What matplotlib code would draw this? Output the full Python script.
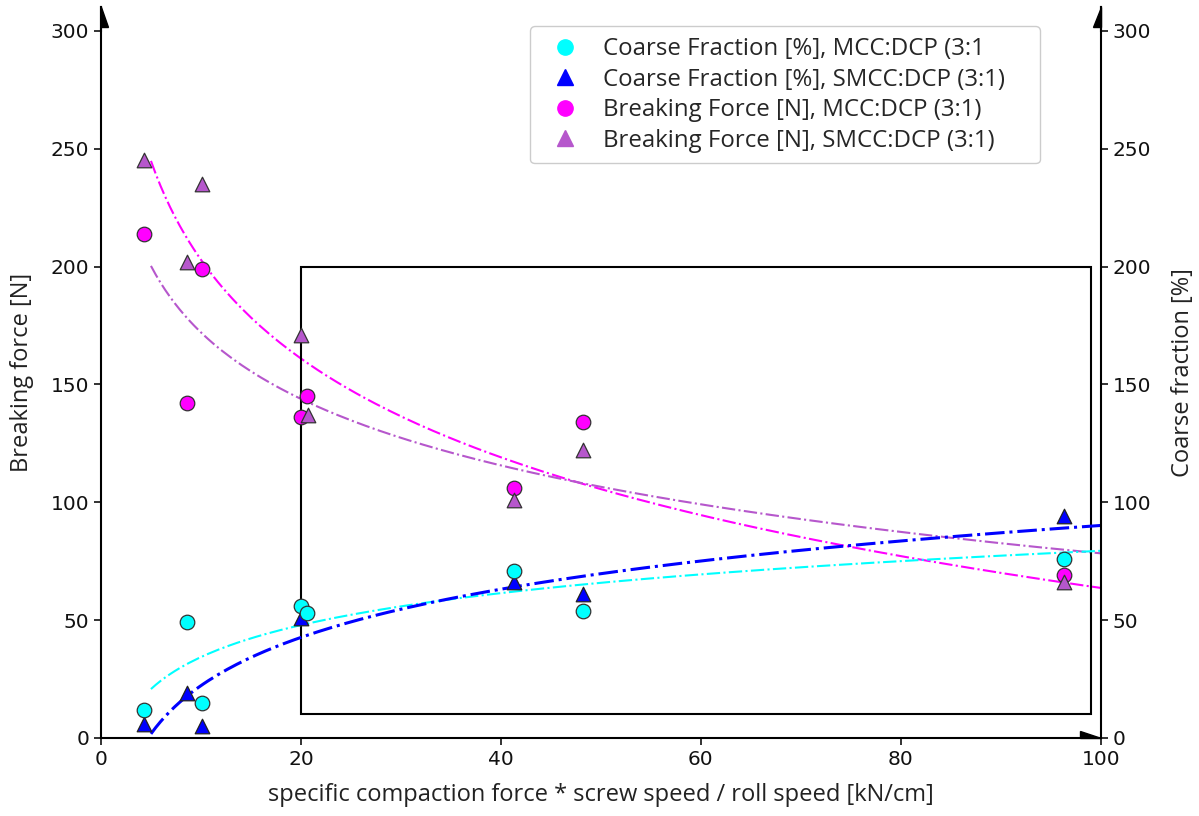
import numpy as np
import matplotlib.pyplot as plt
from matplotlib.patches import Rectangle, Polygon
from matplotlib.lines import Line2D

# specific compaction force * screw speed / roll speed [kN/cm]
x_mcc = [4.3, 8.6, 10.1, 20.0, 20.6, 41.3, 48.2, 96.3]
x_smcc = [4.3, 8.6, 10.1, 20.0, 20.7, 41.3, 48.2, 96.3]
x_cf_smcc = [4.3, 8.6, 10.1, 20.0, 41.3, 48.2, 96.3]

cf_mcc = [12, 49, 15, 56, 53, 71, 54, 76]       # coarse fraction [%], MCC:DCP
cf_smcc = [6, 19, 5, 51, 66, 61, 94]            # coarse fraction [%], SMCC:DCP
bf_mcc = [214, 142, 199, 136, 145, 106, 134, 69]   # breaking force [N], MCC:DCP
bf_smcc = [245, 202, 235, 171, 137, 101, 122, 66]  # breaking force [N], SMCC:DCP

labels = ["Coarse Fraction [%], MCC:DCP (3:1",
          "Coarse Fraction [%], SMCC:DCP (3:1)",
          "Breaking Force [N], MCC:DCP (3:1)",
          "Breaking Force [N], SMCC:DCP (3:1)"]

c_cyan, c_blue, c_mag, c_purp = "#00ffff", "#0000ff", "#ff00ff", "#b657cc"


def log_fit(x, y):
    # y = a + b*ln(x) fitted to the measured points
    b, a = np.polyfit(np.log(x), y, 1)
    xs = np.linspace(5, 100, 200)
    return xs, a + b * np.log(xs)


fig = plt.figure(figsize=(11.99, 8.16), dpi=100)
ax = fig.add_axes([0.0842, 0.0956, 0.834, 0.8955])
ax2 = ax.twinx()

ax.set_xlim(0, 100)
ax.set_ylim(0, 310)
ax2.set_ylim(0, 310)
ax.set_yticks(range(0, 301, 50))
ax2.set_yticks(range(0, 301, 50))
ax.set_xticks(range(0, 101, 20))

for a_ in (ax, ax2):
    a_.spines["top"].set_visible(False)
    for s in a_.spines.values():
        s.set_linewidth(1.5)
    a_.tick_params(labelsize=14.5, width=1.2, length=5, colors="#111111")
ax2.spines["left"].set_visible(False)
ax2.spines["bottom"].set_visible(False)
ax.spines["right"].set_visible(False)

# fit curves (colours as in the original figure)
xs, ys = log_fit(x_mcc, cf_mcc)
ax2.plot(xs, ys, "-.", color=c_cyan, lw=1.5)
xs, ys = log_fit(x_cf_smcc, cf_smcc)
ax2.plot(xs, ys, "-.", color=c_blue, lw=2.2)
xs, ys = log_fit(x_smcc, bf_smcc)
ax.plot(xs, ys, "-.", color=c_mag, lw=1.5)
xs, ys = log_fit(x_mcc, bf_mcc)
ax.plot(xs, ys, "-.", color=c_purp, lw=1.5)

# box
ax.add_patch(Rectangle((20, 10), 79, 190, fill=False, ec="black", lw=1.5, zorder=2))

ms = 110
ax.scatter(x_mcc, bf_mcc, s=ms, marker="o", color=c_mag, edgecolor="#333333", lw=0.9, zorder=3)
ax.scatter(x_smcc, bf_smcc, s=ms, marker="^", color=c_purp, edgecolor="#333333", lw=0.9, zorder=3)
ax2.scatter(x_cf_smcc, cf_smcc, s=ms, marker="^", color=c_blue, edgecolor="#222222", lw=0.9, zorder=3)
ax2.scatter(x_mcc, cf_mcc, s=ms, marker="o", color=c_cyan, edgecolor="#333333", lw=0.9, zorder=3)

# half arrows at the axis ends
for pts in ([(0, 310), (0, 301.5), (0.75, 301.5)],
            [(100, 310), (100, 301.5), (99.25, 301.5)],
            [(100, 0), (97.9, 0), (97.9, 3.0)]):
    ax.add_patch(Polygon(pts, closed=True, color="black", clip_on=False, zorder=5))
ax.plot([0, 0], [300, 310], color="black", lw=1.5, clip_on=False, zorder=5)
ax.plot([100, 100], [300, 310], color="black", lw=1.5, clip_on=False, zorder=5)

lab_font = dict(fontsize=17, family="Open Sans", color="#222222")
ax.set_xlabel("specific compaction force * screw speed / roll speed [kN/cm]", labelpad=10, **lab_font)
ax.set_ylabel("Breaking force [N]", labelpad=12, **lab_font)
ax2.set_ylabel("Coarse fraction [%]", labelpad=14, **lab_font)

handles = [Line2D([], [], ls="", marker="o", color=c_cyan, ms=11),
           Line2D([], [], ls="", marker="^", color=c_blue, ms=11),
           Line2D([], [], ls="", marker="o", color=c_mag, ms=11),
           Line2D([], [], ls="", marker="^", color=c_purp, ms=11)]
leg = ax2.legend(handles, labels, loc="upper left", mode="expand",
                 bbox_to_anchor=(0.429, 0.79, 0.51, 0.184),
                 prop={"family": "Open Sans", "size": 17.3}, labelspacing=0.27,
                 handletextpad=0.6, borderpad=0.45, borderaxespad=0,
                 framealpha=1, edgecolor="#cccccc")
for t in leg.get_texts():
    t.set_color("#262626")

fig.savefig("out.png", dpi=100)
